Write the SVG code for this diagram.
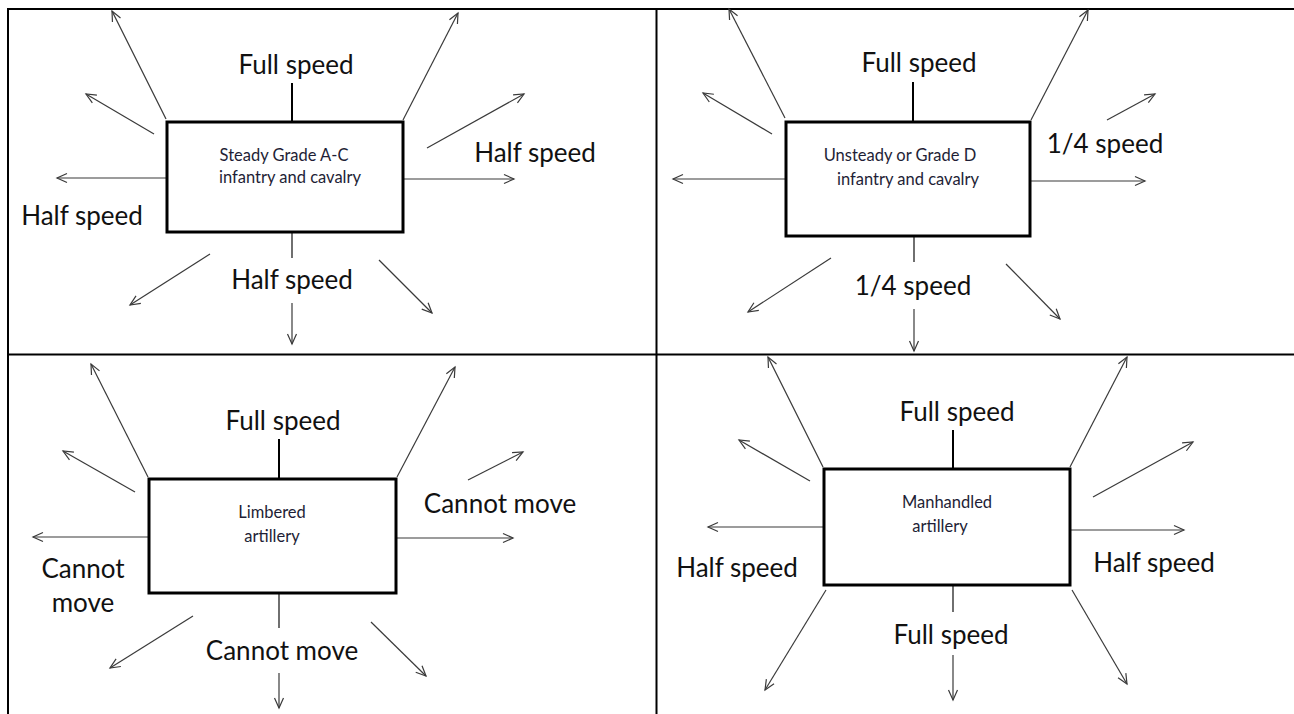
<svg xmlns="http://www.w3.org/2000/svg" width="1294" height="714" viewBox="0 0 1294 714">
<style>
.grid{stroke:#000;stroke-width:2;fill:none}
.box{fill:#fff;stroke:#000;stroke-width:3}
.tick{stroke:#000;stroke-width:2}
.tick2{stroke:#222;stroke-width:1.3}
.arr{stroke:#3a3a3a;stroke-width:1.2;fill:none;marker-end:url(#ah)}
.lbl{font-family:Lato,"Liberation Sans",sans-serif;font-size:26px;fill:#111;text-anchor:middle}
.inner{font-family:Lato,"Liberation Sans",sans-serif;font-size:16.5px;fill:#1e1e36;text-anchor:middle}
</style>
<defs>
<marker id="ah" markerUnits="userSpaceOnUse" markerWidth="14" markerHeight="12" viewBox="-12 -6 14 12" refX="0" refY="0" orient="auto" overflow="visible">
<path d="M-10,-4.5 L0,0 L-10,4.5" fill="none" stroke="#3a3a3a" stroke-width="1.2"/>
</marker>
</defs>
<rect width="1294" height="714" fill="#fff"/>
<g id="table">
<line class="grid" x1="8" y1="9" x2="1294" y2="9"/>
<line class="grid" x1="8" y1="8" x2="8" y2="714"/>
<line class="grid" x1="656.5" y1="8" x2="656.5" y2="714"/>
<line class="grid" x1="8" y1="354.5" x2="1294" y2="354.5"/>
</g>
<g id="connectors">
<line class="arr" x1="166" y1="119" x2="112" y2="11"/>
<line class="arr" x1="154" y1="134" x2="86" y2="94"/>
<line class="arr" x1="166" y1="178" x2="57" y2="178"/>
<line class="arr" x1="210" y1="254" x2="130" y2="305"/>
<line class="arr" x1="292" y1="303" x2="292" y2="344"/>
<line class="arr" x1="379" y1="260" x2="432" y2="313"/>
<line class="arr" x1="403" y1="179" x2="514" y2="179"/>
<line class="arr" x1="427" y1="148" x2="524" y2="94"/>
<line class="arr" x1="403" y1="120" x2="458" y2="13"/>
<line class="arr" x1="785" y1="118" x2="729" y2="9"/>
<line class="arr" x1="772" y1="134" x2="703" y2="93"/>
<line class="arr" x1="786" y1="179" x2="673" y2="179"/>
<line class="arr" x1="831" y1="258" x2="748" y2="312"/>
<line class="arr" x1="914" y1="309" x2="914" y2="351"/>
<line class="arr" x1="1006" y1="264" x2="1060" y2="319"/>
<line class="arr" x1="1030" y1="181" x2="1145" y2="181"/>
<line class="arr" x1="1107" y1="120" x2="1155" y2="94"/>
<line class="arr" x1="1031" y1="120" x2="1088" y2="10"/>
<line class="arr" x1="148" y1="477" x2="91" y2="364"/>
<line class="arr" x1="135" y1="492" x2="63" y2="451"/>
<line class="arr" x1="149" y1="537" x2="33" y2="537"/>
<line class="arr" x1="193" y1="616" x2="110" y2="668"/>
<line class="arr" x1="279" y1="673" x2="279" y2="708"/>
<line class="arr" x1="371" y1="622" x2="426" y2="676"/>
<line class="arr" x1="397" y1="538" x2="513" y2="538"/>
<line class="arr" x1="468" y1="480" x2="523" y2="452"/>
<line class="arr" x1="397" y1="477" x2="455" y2="367"/>
<line class="arr" x1="823" y1="467" x2="768" y2="357"/>
<line class="arr" x1="810" y1="481" x2="739" y2="440"/>
<line class="arr" x1="824" y1="527" x2="708" y2="527"/>
<line class="arr" x1="826" y1="590" x2="765" y2="690"/>
<line class="arr" x1="953" y1="655" x2="953" y2="700"/>
<line class="arr" x1="1072" y1="590" x2="1127" y2="684"/>
<line class="arr" x1="1070" y1="530" x2="1184" y2="530"/>
<line class="arr" x1="1093" y1="497" x2="1193" y2="442"/>
<line class="arr" x1="1070" y1="467" x2="1127" y2="357"/>
</g>
<g id="node-steady">
<line class="tick" x1="292" y1="83" x2="292" y2="122"/>
<line class="tick2" x1="292" y1="232" x2="292" y2="258"/>
<rect class="box" x="167" y="122" width="236" height="110"/>
<text class="inner" x="284" y="161">Steady Grade A-C</text>
<text class="inner" x="290" y="183">infantry and cavalry</text>
<text class="lbl" x="296" y="74">Full speed</text>
<text class="lbl" x="535" y="162">Half speed</text>
<text class="lbl" x="82" y="225">Half speed</text>
<text class="lbl" x="292" y="289">Half speed</text>
</g>
<g id="node-unsteady">
<line class="tick" x1="913" y1="82" x2="913" y2="122"/>
<line class="tick2" x1="914" y1="236" x2="914" y2="262"/>
<rect class="box" x="786" y="122" width="244" height="114"/>
<text class="inner" x="900" y="161">Unsteady or Grade D</text>
<text class="inner" x="908" y="185">infantry and cavalry</text>
<text class="lbl" x="919" y="72">Full speed</text>
<text class="lbl" x="1105" y="153">1/4 speed</text>
<text class="lbl" x="913" y="295">1/4 speed</text>
</g>
<g id="node-limbered">
<line class="tick" x1="279" y1="439" x2="279" y2="479"/>
<line class="tick2" x1="279" y1="593" x2="279" y2="628"/>
<rect class="box" x="149" y="479" width="247" height="114"/>
<text class="inner" x="272" y="518">Limbered</text>
<text class="inner" x="272" y="542">artillery</text>
<text class="lbl" x="283" y="430">Full speed</text>
<text class="lbl" x="500" y="513">Cannot move</text>
<text class="lbl" x="83" y="578">Cannot</text>
<text class="lbl" x="83" y="612">move</text>
<text class="lbl" x="282" y="660">Cannot move</text>
</g>
<g id="node-manhandled">
<line class="tick" x1="953" y1="430" x2="953" y2="469"/>
<line class="tick2" x1="953" y1="585" x2="953" y2="612"/>
<rect class="box" x="824" y="469" width="246" height="116"/>
<text class="inner" x="947" y="508">Manhandled</text>
<text class="inner" x="940" y="532">artillery</text>
<text class="lbl" x="957" y="421">Full speed</text>
<text class="lbl" x="737" y="577">Half speed</text>
<text class="lbl" x="1154" y="572">Half speed</text>
<text class="lbl" x="951" y="644">Full speed</text>
</g>
</svg>
